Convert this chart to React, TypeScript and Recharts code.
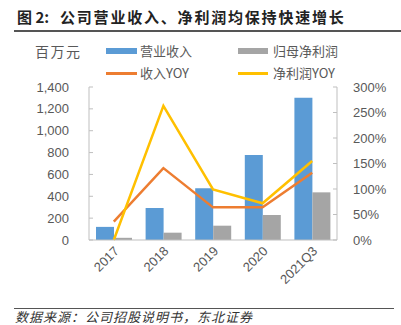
import React from 'react';
import { ComposedChart, Bar, Line, XAxis, YAxis } from 'recharts';

const categories = ['2017', '2018', '2019', '2020', '2021Q3'];
const revenue = [120, 293, 473, 778, 1302];
const netProfit = [20, 67, 131, 229, 436];
const revenueYoy = [36, 141, 64, 64, 132];
const profitYoy = [0, 263, 99, 72, 155];
const leftTicks = [0, 200, 400, 600, 800, 1000, 1200, 1400];
const rightTicks = [0, 50, 100, 150, 200, 250, 300];

const data = categories.map((c, i) => ({
  name: c,
  revenue: revenue[i],
  netProfit: netProfit[i],
  revenueYoy: revenueYoy[i],
  profitYoy: profitYoy[i],
}));

const TXT = '#595959';
const AXIS = '#bfbfbf';
const NUMFONT = '"Liberation Sans", Arial, sans-serif';
const CJK = '"Noto Sans CJK SC", sans-serif';

const LeftTick = (props: any) => {
  const { x, y, payload } = props;
  const v = Number(payload.value).toLocaleString('en-US');
  return (
    <g>
      <line x1={x + 20} x2={x + 24} y1={y} y2={y} stroke={AXIS} strokeWidth={1} />
      <text x={x} y={y} dy="0.35em" textAnchor="end" fill={TXT} fontSize={13} fontFamily={NUMFONT}>
        {v}
      </text>
    </g>
  );
};

const RightTick = (props: any) => {
  const { x, y, payload } = props;
  return (
    <g>
      <line x1={x - 20} x2={x - 16} y1={y} y2={y} stroke={AXIS} strokeWidth={1} />
      <text x={x} y={y} dy="0.35em" textAnchor="start" fill={TXT} fontSize={13} fontFamily={NUMFONT}>
        {payload.value + '%'}
      </text>
    </g>
  );
};

const XTick = (props: any) => {
  const { x, y, payload } = props;
  return (
    <text
      x={0}
      y={0}
      transform={`translate(${x + 6},${y + 12}) rotate(-45)`}
      textAnchor="end"
      fill={TXT}
      fontSize={13}
      fontFamily={NUMFONT}
    >
      {payload.value}
    </text>
  );
};

export default function App() {
  return (
    <div style={{ position: 'absolute', left: 0, top: 0, width: 401, height: 325, overflow: 'hidden', background: '#fff' }}>
      <div style={{ position: 'absolute', left: 17, top: 7, fontFamily: CJK, fontWeight: 700, fontSize: 15, lineHeight: '20px', color: '#222', whiteSpace: 'nowrap' }}>
        图 2:
      </div>
      <div style={{ position: 'absolute', left: 60, top: 7, fontFamily: CJK, fontWeight: 700, fontSize: 15, letterSpacing: 1.8, lineHeight: '20px', color: '#222', whiteSpace: 'nowrap' }}>
        公司营业收入、净利润均保持快速增长
      </div>
      <div style={{ position: 'absolute', left: 14, top: 30, width: 387, height: 1.5, background: '#555' }} />
      <div style={{ position: 'absolute', left: 14, top: 307.5, width: 380, height: 1.5, background: '#555' }} />
      <div style={{ position: 'absolute', left: 15, top: 310, fontFamily: CJK, fontSize: 13, letterSpacing: 1, lineHeight: '13px', color: '#333', whiteSpace: 'nowrap', fontStyle: 'italic' }}>
        数据来源：公司招股说明书，东北证券
      </div>

      <ComposedChart
        width={401}
        height={325}
        data={data}
        margin={{ top: 87, right: 0, bottom: 0, left: 0 }}
        barCategoryGap="14%"
        barGap={0}
        style={{ position: 'absolute', left: 0, top: 0 }}
      >
        <XAxis
          dataKey="name"
          height={85}
          axisLine={{ stroke: AXIS }}
          tickLine={false}
          tickSize={0}
          tickMargin={0}
          interval={0}
          tick={<XTick />}
        />
        <YAxis
          yAxisId="left"
          orientation="left"
          width={89}
          domain={[0, 1400]}
          ticks={leftTicks}
          interval={0}
          axisLine={{ stroke: AXIS }}
          tickLine={false}
          tickSize={0}
          tickMargin={20}
          tick={<LeftTick />}
        />
        <YAxis
          yAxisId="right"
          orientation="right"
          width={64}
          domain={[0, 300]}
          ticks={rightTicks}
          interval={0}
          axisLine={{ stroke: AXIS }}
          tickLine={false}
          tickSize={0}
          tickMargin={16}
          tick={<RightTick />}
        />
        <Bar yAxisId="left" dataKey="revenue" fill="#5b9bd5" barSize={18} isAnimationActive={false} />
        <Bar yAxisId="left" dataKey="netProfit" fill="#a5a5a5" barSize={18} isAnimationActive={false} />
        <Line yAxisId="right" dataKey="revenueYoy" type="linear" stroke="#ed7d31" strokeWidth={2.5} dot={false} isAnimationActive={false} />
        <Line yAxisId="right" dataKey="profitYoy" type="linear" stroke="#ffc000" strokeWidth={2.5} dot={false} isAnimationActive={false} />
      </ComposedChart>

      <div style={{ position: 'absolute', left: 35, top: 41, fontFamily: CJK, fontSize: 14, letterSpacing: 1.5, lineHeight: '20px', color: TXT, whiteSpace: 'nowrap' }}>
        百万元
      </div>
      <div style={{ position: 'absolute', left: 106, top: 48, width: 31, height: 6, background: '#5b9bd5' }} />
      <div style={{ position: 'absolute', left: 140, top: 42, fontFamily: CJK, fontSize: 13, lineHeight: '18px', color: TXT, whiteSpace: 'nowrap' }}>
        营业收入
      </div>
      <div style={{ position: 'absolute', left: 238, top: 48, width: 30, height: 6, background: '#a5a5a5' }} />
      <div style={{ position: 'absolute', left: 273, top: 42, fontFamily: CJK, fontSize: 13, lineHeight: '18px', color: TXT, whiteSpace: 'nowrap' }}>
        归母净利润
      </div>
      <div style={{ position: 'absolute', left: 106, top: 72, width: 31, height: 2.5, background: '#ed7d31' }} />
      <div style={{ position: 'absolute', left: 140, top: 64, fontFamily: CJK, fontSize: 13, lineHeight: '18px', color: TXT, whiteSpace: 'nowrap' }}>
        收入YOY
      </div>
      <div style={{ position: 'absolute', left: 238, top: 72, width: 30, height: 2.5, background: '#ffc000' }} />
      <div style={{ position: 'absolute', left: 273, top: 64, fontFamily: CJK, fontSize: 13, lineHeight: '18px', color: TXT, whiteSpace: 'nowrap' }}>
        净利润YOY
      </div>
    </div>
  );
}
